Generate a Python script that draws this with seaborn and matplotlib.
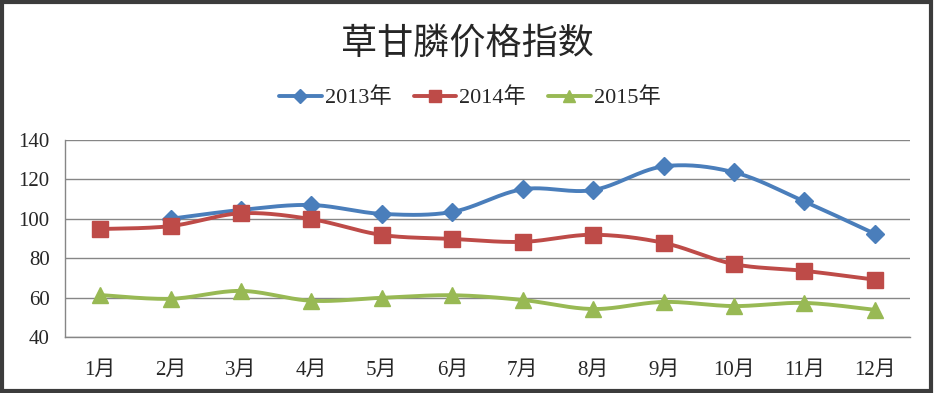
import matplotlib
matplotlib.use("Agg")
import matplotlib.pyplot as plt
from matplotlib.lines import Line2D
from matplotlib.patches import Rectangle
import numpy as np
import seaborn as sns

sns.set_style("white")
plt.rcParams["font.family"] = ["Liberation Serif", "Noto Sans CJK SC"]

MONTHS = ["1月", "2月", "3月", "4月", "5月", "6月", "7月", "8月", "9月", "10月", "11月", "12月"]
Y2013 = [np.nan, 100, 104.5, 107, 102.5, 103.5, 115, 114.6, 126.6, 123.6, 108.8, 92.4]
Y2014 = [94.8, 96.3, 102.8, 99.8, 91.8, 89.8, 88.3, 91.9, 87.8, 77, 73.6, 69.1]
Y2015 = [61.3, 59.4, 63.4, 58.4, 59.9, 61.2, 58.8, 54.2, 57.8, 55.7, 57.3, 53.8]
SERIES = ["2013年", "2014年", "2015年"]
COLORS = ["#4A7EBB", "#BE4B48", "#98B954"]
MARKERS = ["D", "s", "^"]
MSIZES = [9, 11, 11]


def smooth(xs, ys, n=30):
    # Excel-style smoothed line: cubic bezier with catmull-rom control points
    pts = np.column_stack([xs, ys])
    out = [pts[0]]
    for i in range(len(pts) - 1):
        p0 = pts[i - 1] if i > 0 else pts[i]
        p1, p2 = pts[i], pts[i + 1]
        p3 = pts[i + 2] if i + 2 < len(pts) else pts[i + 1]
        c1 = p1 + (p2 - p0) / 6
        c2 = p2 - (p3 - p1) / 6
        t = np.linspace(0, 1, n)[1:, None]
        seg = ((1 - t) ** 3) * p1 + 3 * ((1 - t) ** 2) * t * c1 + 3 * (1 - t) * t ** 2 * c2 + t ** 3 * p2
        out.extend(seg)
    out = np.array(out)
    return out[:, 0], out[:, 1]


fig = plt.figure(figsize=(9.34, 3.93), dpi=100)
ax = fig.add_axes([65 / 934, 1 - 337 / 393, 845 / 934, 197 / 393])

x = np.arange(len(MONTHS))
handles = []
for name, vals, c, m, ms in zip(SERIES, [Y2013, Y2014, Y2015], COLORS, MARKERS, MSIZES):
    vals = np.array(vals, dtype=float)
    ok = ~np.isnan(vals)
    sx, sy = smooth(x[ok].astype(float), vals[ok])
    sns.lineplot(x=sx, y=sy, ax=ax, color=c, linewidth=2.8, estimator=None, sort=False, legend=False)
    ax.plot(x[ok], vals[ok], linestyle="none", marker=m, markersize=ms, color=c, zorder=4)
    handles.append(Line2D([], [], color=c, linewidth=2.8, marker=m, markersize=ms * 0.8, label=name))

ax.set_xlim(-0.5, len(MONTHS) - 0.5)
ax.set_ylim(40, 140)
ax.set_yticks([40, 60, 80, 100, 120, 140])
ax.set_xticks(x)
ax.set_xticklabels(MONTHS)
ax.set_xticks(np.arange(-0.5, len(MONTHS)), minor=True)
ax.tick_params(axis="x", which="major", length=0, pad=17, labelsize=15)
ax.tick_params(axis="x", which="minor", length=5, color="#868686", direction="out")
ax.tick_params(axis="y", length=0, pad=11, labelsize=15)
ax.yaxis.grid(True, color="#868686", linewidth=1)
ax.set_axisbelow(True)
for s in ["top", "right"]:
    ax.spines[s].set_visible(False)
for s in ["left", "bottom"]:
    ax.spines[s].set_color("#868686")
    ax.spines[s].set_linewidth(1)

fig.text(0.5, 1 - 45 / 393, "草甘膦价格指数", ha="center", va="center", fontsize=26)
fig.legend(handles=handles, loc="center", bbox_to_anchor=(470 / 934, 1 - 98 / 393), ncol=3,
           frameon=False, fontsize=16, handlelength=1.9, handletextpad=0.15, columnspacing=1.0)

fig.patches.append(Rectangle((0.002, 0.004), 0.995, 0.992, transform=fig.transFigure,
                             fill=False, edgecolor="#3c3c3c", linewidth=3))
fig.savefig("out.png", dpi=100)
